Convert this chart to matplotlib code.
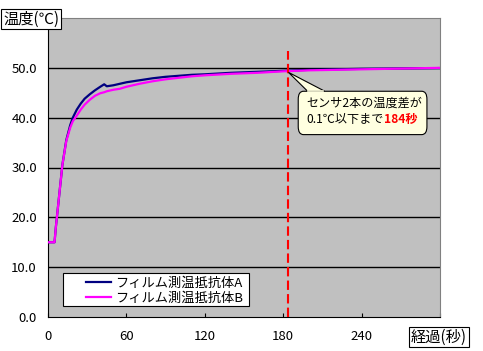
import matplotlib.pyplot as plt
from matplotlib.patches import FancyBboxPatch, Polygon, Rectangle

plt.rcParams['font.family'] = ['Noto Sans CJK JP', 'DejaVu Sans']

# time (s) and temperature readings for both sensors
time = [0, 5, 6, 7, 9, 11, 14, 17, 19, 22, 25, 28, 32, 36, 40, 43, 45, 50, 55, 60,
        70, 80, 90, 100, 110, 120, 140, 160, 180, 200, 220, 240, 260, 280, 300]
temp_a = [15.0, 15.0, 18.0, 20.5, 25.5, 30.5, 35.5, 38.5, 40.0, 41.6, 42.8, 43.8, 44.7, 45.5, 46.2, 46.7, 46.3, 46.5, 46.8, 47.1,
          47.5, 47.9, 48.2, 48.4, 48.6, 48.7, 49.0, 49.2, 49.4, 49.6, 49.7, 49.8, 49.85, 49.9, 49.95]
temp_b = [15.0, 15.0, 18.0, 20.5, 25.5, 30.5, 35.3, 38.0, 39.3, 40.4, 41.6, 42.6, 43.6, 44.4, 44.9, 45.1, 45.3, 45.6, 45.8, 46.2,
          46.8, 47.3, 47.7, 48.0, 48.3, 48.5, 48.8, 49.0, 49.3, 49.5, 49.6, 49.7, 49.8, 49.9, 50.0]
series_names = ['フィルム測温抵抗体A', 'フィルム測温抵抗体B']
mark_time = 184

W, H = 483, 351
fig = plt.figure(figsize=(W/100, H/100), dpi=100)
ax = fig.add_axes([48/W, 34/H, 392/W, 299/H])
ax.set_facecolor('#c0c0c0')

ax.plot(time, temp_a, color='#000080', lw=1.6, label=series_names[0], zorder=3)
ax.plot(time, temp_b, color='#ff00ff', lw=1.6, label=series_names[1], zorder=3)

ax.set_xlim(0, 300)
ax.set_ylim(0, 60)
ax.set_xticks([0, 60, 120, 180, 240, 300])
ax.set_xticklabels(['0', '60', '120', '180', '240', ''])
ax.set_yticks([0, 10, 20, 30, 40, 50])
ax.set_yticklabels([f'{v:.1f}' for v in [0, 10, 20, 30, 40, 50]])
ax.tick_params(axis='x', direction='in', length=3, pad=9, labelsize=9.5)
ax.tick_params(axis='y', length=0, pad=8, labelsize=9.5)
for v in [10, 20, 30, 40, 50]:
    ax.axhline(v, color='black', lw=1, zorder=1)

ax.spines['left'].set_color('black')
ax.spines['bottom'].set_color('black')
ax.spines['top'].set_color('#808080')
ax.spines['right'].set_color('#808080')

ax.axvline(mark_time, ymin=0, ymax=53.3/60, color='red', lw=1.5,
           dashes=(4.5, 2), zorder=4)

# callout
box = FancyBboxPatch((191.5, 36.6), 98.5, 8.7, boxstyle='round,pad=0,rounding_size=4',
                     mutation_aspect=0.4, facecolor='#ffffe0', edgecolor='black',
                     lw=0.8, zorder=5)
ax.add_patch(box)
ax.add_patch(Polygon([(mark_time, 49.1), (198.5, 45.35), (211.5, 45.35)], closed=True,
                     facecolor='#ffffe0', edgecolor='black', lw=0.8, zorder=5))
ax.plot([199.2, 210.8], [45.3, 45.3], color='#ffffe0', lw=1.2, zorder=6)
ax.text(197.5, 43.0, 'センサ2本の温度差が', fontsize=8.7, va='center', zorder=7)
t1 = ax.text(197.5, 39.7, '0.1℃以下まで', fontsize=8.7, va='center', zorder=7)
fig.canvas.draw()
bb = t1.get_window_extent()
x_end = ax.transData.inverted().transform((bb.x1, bb.y0))[0]
ax.text(x_end + 0.8, 39.7, '184秒', fontsize=8.7, va='center', color='red',
        fontweight='bold', zorder=7)

# legend with a manually drawn frame
leg = ax.legend(loc='lower left', bbox_to_anchor=((83 - 48)/392, (317 - 307)/299),
                borderaxespad=0, fontsize=9.5, frameon=False,
                handlelength=1.9, borderpad=0.2, labelspacing=0.1, handletextpad=0.3)
leg.set_zorder(8)
ax.add_patch(Rectangle(((63 - 48)/392, (317 - 306)/299), 186/392, 33/299,
                       transform=ax.transAxes, facecolor='white', edgecolor='black',
                       lw=0.8, zorder=7))

fig.text(3/W, 1 - 19/H, '温度(℃)', fontsize=11, va='center', ha='left',
         bbox=dict(boxstyle='square,pad=0.12', facecolor='white', edgecolor='black', lw=0.8))
fig.text(411/W, 1 - 337/H, '経過(秒)', fontsize=11, va='center', ha='left',
         bbox=dict(boxstyle='square,pad=0.12', facecolor='white', edgecolor='black', lw=0.8))

fig.savefig('out.png', dpi=100)
